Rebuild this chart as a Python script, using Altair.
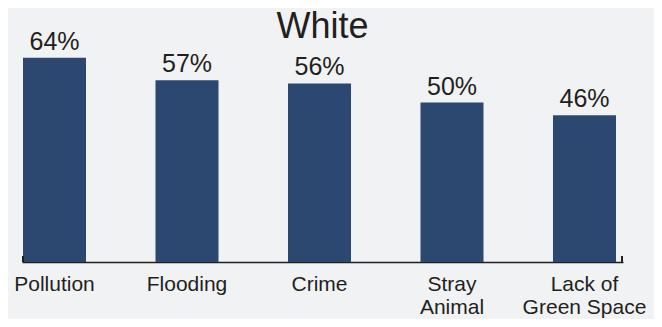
import altair as alt
import pandas as pd

categories = ["Pollution", "Flooding", "Crime", "Stray|Animal", "Lack of|Green Space"]
values = [64, 57, 56, 50, 46]

df = pd.DataFrame({"cat": categories, "value": values})

W = 601
H = 222
BG = "#f1f2f4"
BAR = "#2c4770"
INK = "#231f20"
FONT = "Liberation Sans"

xscale = alt.Scale(domain=categories, paddingInner=0.5245, paddingOuter=0.0302, align=0.125)
yscale = alt.Scale(domain=[0, 69.6])

base = alt.Chart(df)

bars = base.mark_bar(color=BAR).encode(
    x=alt.X("cat:N", scale=xscale, sort=categories,
            axis=alt.Axis(title=None, labelAngle=0, ticks=False, domain=True,
                          domainColor=INK, domainWidth=1.5,
                          labelFontSize=21, labelColor=INK, labelFont=FONT,
                          labelLineHeight=23.5, labelPadding=11,
                          labelExpr="split(datum.label, '|')")),
    y=alt.Y("value:Q", scale=yscale, axis=None),
)

labels = base.transform_calculate(lbl="datum.value + '%'").mark_text(
    baseline="bottom", dy=-3, fontSize=25, color=INK, font=FONT
).encode(
    x=alt.X("cat:N", scale=xscale, sort=categories),
    y=alt.Y("value:Q", scale=yscale),
    text="lbl:N",
)

tick_l = alt.Chart(df).mark_rule(color=INK, strokeWidth=1.5).encode(
    x=alt.value(0.75), y=alt.value(H - 6), y2=alt.value(H))
tick_r = alt.Chart(df).mark_rule(color=INK, strokeWidth=1.5).encode(
    x=alt.value(W - 0.75), y=alt.value(H - 6), y2=alt.value(H))

chart = alt.layer(bars, tick_l, tick_r, labels).properties(
    width=W, height=H,
    autosize=alt.AutoSizeParams(type="none"),
    padding={"left": 14, "top": 32, "right": 31, "bottom": 57},
    background=BG,
    title=alt.TitleParams("White", fontSize=36, font=FONT, color=INK,
                          fontWeight="normal", anchor="middle", offset=3, dy=19),
).configure_view(stroke=None)

chart.save("out.html", embed_options={"renderer": "svg", "actions": False})
